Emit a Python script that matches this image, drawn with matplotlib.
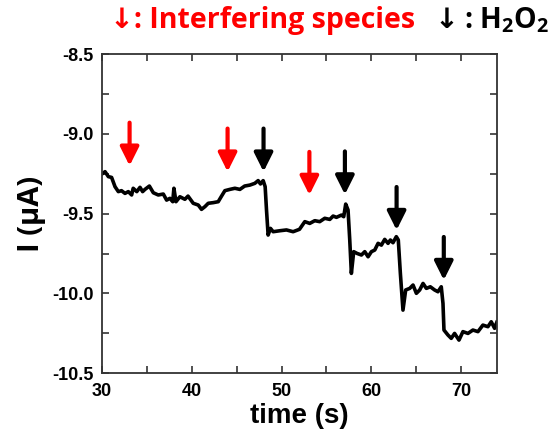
import numpy as np
import matplotlib.pyplot as plt
from matplotlib.ticker import MultipleLocator

# current trace (time in s, current in uA)
time_s = [30.11, 30.37, 30.74, 31.1, 31.48, 31.85, 32.2, 32.59, 32.96, 33.33, 33.5, 33.9,
          34.26, 34.55, 34.81, 35.3, 35.74, 36.29, 36.85, 37.22, 37.59, 37.9, 38.03, 38.26,
          38.7, 39.25, 39.6, 40.18, 40.74, 41.1, 41.48, 41.85, 42.4, 42.96, 43.33, 43.7,
          44.25, 44.81, 45.37, 45.9, 46.48, 47.03, 47.4, 47.66, 47.96, 48.18, 48.33, 48.51,
          48.77, 49.07, 49.81, 50.55, 51.29, 52.0, 52.59, 53.14, 53.7, 54.25, 54.81, 55.37,
          55.74, 56.11, 56.66, 56.92, 57.14, 57.4, 57.59, 57.77, 58.03, 58.4, 58.89, 59.26,
          59.63, 60.0, 60.37, 60.74, 61.11, 61.48, 61.85, 62.11, 62.4, 62.77, 62.99, 63.22,
          63.51, 63.81, 64.26, 64.63, 65.0, 65.37, 65.74, 66.11, 66.55, 67.03, 67.4, 67.77,
          67.96, 68.07, 68.51, 68.88, 69.25, 69.74, 70.18, 70.74, 71.29, 71.85, 72.4, 72.96,
          73.33, 73.7, 73.95]
current = [-9.248, -9.237, -9.268, -9.273, -9.331, -9.362, -9.356, -9.373, -9.362, -9.383,
           -9.341, -9.362, -9.335, -9.362, -9.348, -9.327, -9.369, -9.383, -9.377, -9.415,
           -9.404, -9.425, -9.341, -9.425, -9.394, -9.41, -9.39, -9.435, -9.446, -9.473,
           -9.456, -9.435, -9.431, -9.425, -9.39, -9.356, -9.348, -9.341, -9.348, -9.327,
           -9.321, -9.31, -9.293, -9.314, -9.293, -9.331, -9.477, -9.634, -9.592, -9.613,
           -9.607, -9.602, -9.613, -9.598, -9.55, -9.561, -9.544, -9.55, -9.529, -9.536,
           -9.515, -9.523, -9.509, -9.519, -9.44, -9.477, -9.665, -9.874, -9.738, -9.749,
           -9.759, -9.738, -9.77, -9.738, -9.728, -9.686, -9.697, -9.661, -9.686, -9.665,
           -9.682, -9.644, -9.665, -9.874, -10.104, -9.978, -9.968, -9.947, -9.999, -9.978,
           -9.937, -9.968, -9.958, -9.978, -9.989, -9.958, -10.062, -10.229, -10.26, -10.281,
           -10.25, -10.292, -10.239, -10.25, -10.229, -10.239, -10.198, -10.208, -10.177,
           -10.218, -10.18]

# injection arrows: time, arrow tip current
interf_t = [33.1, 44.0, 53.1]
interf_tip = [-9.20, -9.237, -9.383]
h2o2_t = [48.0, 57.05, 62.8, 68.05]
h2o2_tip = [-9.237, -9.38, -9.603, -9.916]
arrow_len = 0.27

plt.rcParams['mathtext.fontset'] = 'custom'
plt.rcParams['mathtext.rm'] = 'Open Sans:bold'
plt.rcParams['mathtext.bf'] = 'Open Sans:bold'

fig = plt.figure(figsize=(5.51, 4.29), dpi=100)
ax = fig.add_axes([0.1846, 0.1298, 0.7179, 0.7443])

ax.plot(time_s, current, color='black', lw=2.6, solid_joinstyle='round')

def draw_arrows(ts, tips, color):
    for t, tip in zip(ts, tips):
        ax.annotate('', xy=(t, tip), xytext=(t, tip + arrow_len),
                    arrowprops=dict(arrowstyle='-|>,head_width=0.4,head_length=0.8',
                                    lw=3, color=color, shrinkA=0, shrinkB=0,
                                    mutation_scale=14))

draw_arrows(interf_t, interf_tip, '#ff0000')
draw_arrows(h2o2_t, h2o2_tip, 'black')

ax.set_xlim(30, 74)
ax.set_ylim(-10.5, -8.5)
ax.xaxis.set_major_locator(MultipleLocator(10))
ax.xaxis.set_minor_locator(MultipleLocator(5))
ax.yaxis.set_major_locator(MultipleLocator(0.5))
ax.yaxis.set_minor_locator(MultipleLocator(0.25))
ax.yaxis.set_major_formatter(plt.FuncFormatter(lambda v, p: f'{v:.1f}'))
ax.tick_params(which='both', direction='in', top=True, right=True, width=1.2,
               length=5, color='#333333')
for sp in ax.spines.values():
    sp.set_linewidth(1.3)
    sp.set_color('#333333')

tick_font = dict(family='Liberation Sans', weight='bold', size=13)
for lab in ax.get_xticklabels() + ax.get_yticklabels():
    lab.set_fontproperties(tick_font)
ax.tick_params(axis='x', pad=7)
ax.tick_params(axis='y', pad=6)

ax.set_xlabel('time (s)', family='Liberation Sans', weight='bold', size=20, labelpad=2)
ax.set_ylabel('I (μA)', family=['Open Sans', 'DejaVu Sans'], weight='bold', size=21, labelpad=4)

title_font = dict(weight='bold', size=20.5, va='baseline')
ybase = 1 - 28 / 429
fig.text(110 / 551, ybase, '↓: Interfering species', color='#ff0000', ha='left',
         family=['Open Sans', 'DejaVu Sans'], **title_font)
fig.text(434 / 551, ybase, '↓', color='black', ha='left', family='DejaVu Sans', **title_font)
fig.text(549 / 551, ybase, ': H$_2$O$_2$', color='black', ha='right',
         family='Open Sans', **title_font)

fig.savefig('out.png', dpi=100)
